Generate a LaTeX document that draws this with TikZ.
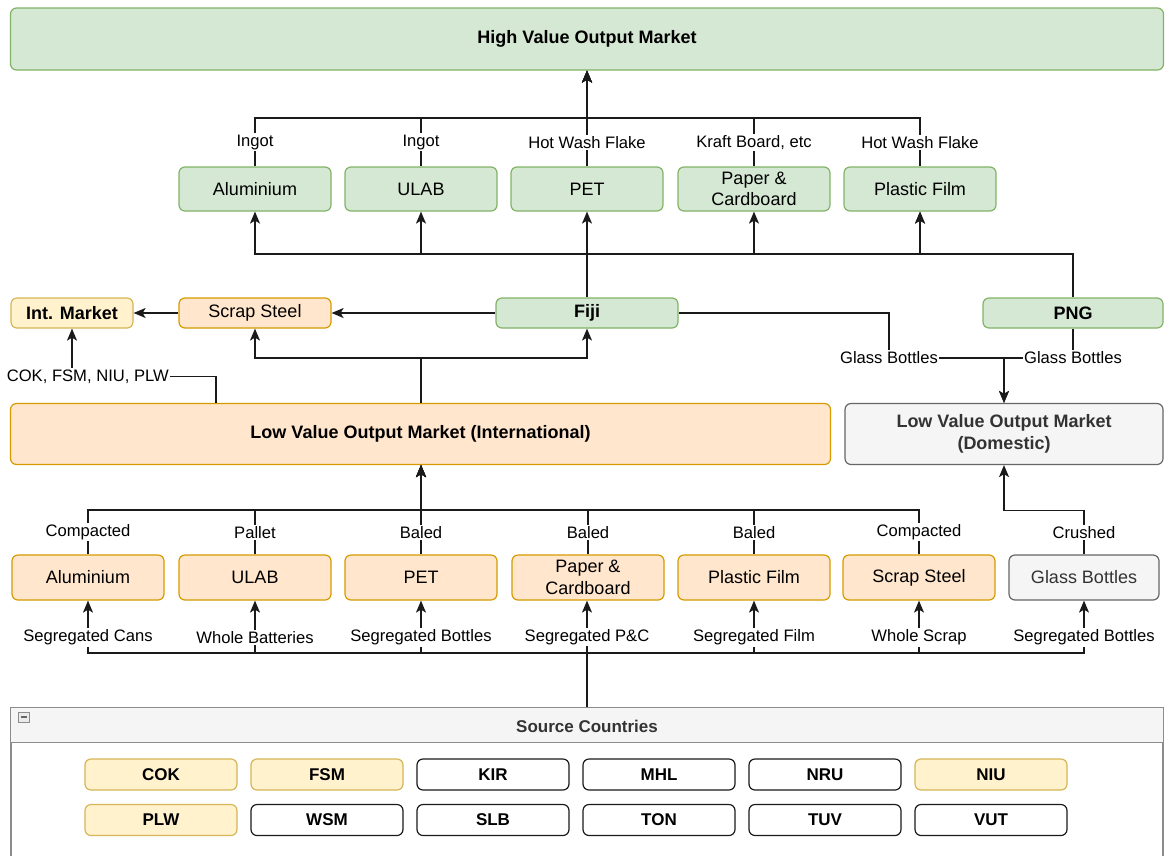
\documentclass[tikz,border=0pt]{standalone}
\usepackage{fontspec}
\setmainfont{Liberation Sans}
\usetikzlibrary{arrows.meta,calc}
\definecolor{gfill}{HTML}{D5E8D4}\definecolor{gline}{HTML}{82B366}
\definecolor{ofill}{HTML}{FFE6CC}\definecolor{oline}{HTML}{D79B00}
\definecolor{yfill}{HTML}{FFF2CC}\definecolor{yline}{HTML}{D6B656}
\definecolor{sfill}{HTML}{F5F5F5}\definecolor{sline}{HTML}{666666}
\definecolor{stext}{HTML}{333333}
\definecolor{cline}{HTML}{1A1A1A}
\tikzset{
  sz/.style n args={2}{minimum width=#1pt, minimum height=#2pt},
  box/.style={rounded corners=6pt, line width=1.2pt, inner sep=1pt, align=center,
              font=\fontsize{18}{21.5}\selectfont},
  gbox/.style={box, fill=gfill, draw=gline},
  obox/.style={box, fill=ofill, draw=oline},
  ybox/.style={box, fill=yfill, draw=yline},
  sbox/.style={box, fill=sfill, draw=sline, text=stext},
  wbox/.style={box, fill=white, draw=cline},
  conn/.style={line width=1.4pt, draw=cline},
  arr/.style={conn, -{Stealth[length=12pt,width=10pt,inset=3pt]}},
  lbl/.style={fill=white, inner sep=1.5pt, font=\fontsize{16.6}{18}\selectfont}
}
\begin{document}
\begin{tikzpicture}[x=1pt,y=-1pt]
\useasboundingbox[fill=white] (0,0) rectangle (1166,855);

% ---------- top
\node[gbox, sz={1153}{62}] (hv) at (587,39) {\bfseries High Value Output Market};
\node[gbox, sz={152}{44}] (talu) at (255,189) {Aluminium};
\node[gbox, sz={152}{44}] (tulab) at (421,189) {ULAB};
\node[gbox, sz={152}{44}] (tpet) at (587,189) {PET};
\node[gbox, sz={152}{44}] (tpap) at (754,189) {Paper \&\\Cardboard};
\node[gbox, sz={152}{44}] (tpf) at (920,189) {Plastic Film};
\coordinate (hb) at (587,118);

\draw[arr] (talu.north) |- node[lbl,pos=0.25]{Ingot} (hb) -- (hv.south);
\draw[arr] (tulab.north) |- node[lbl,pos=0.25]{Ingot} (hb) -- (hv.south);
\draw[arr] (tpet.north) -- node[lbl,pos=0.25]{Hot Wash Flake} (hv.south);
\draw[arr] (tpap.north) |- node[lbl,pos=0.25]{Kraft Board, etc} (hb) -- (hv.south);
\draw[arr] (tpf.north) |- node[lbl,pos=0.25]{Hot Wash Flake} (hb) -- (hv.south);

% ---------- middle row
\node[ybox, sz={122}{30}] (intm) at (72,313) {\bfseries Int. Market};
\node[obox, sz={152}{30}] (scrap) at (255,313) {Scrap Steel};
\node[gbox, sz={182}{30}] (fiji) at (587,313) {\bfseries Fiji};
\node[gbox, sz={180}{30}] (png) at (1073,313) {\bfseries PNG};
\coordinate (fb) at (587,254);

\draw[arr] (fiji.north) -- (tpet.south);
\draw[arr] (fb) -| (talu.south);
\draw[arr] (fb) -| (tulab.south);
\draw[arr] (fb) -| (tpap.south);
\draw[arr] (fb) -| (tpf.south);
\draw[arr] (png.north) |- (tpf.south |- fb) -- (tpf.south);

\draw[arr] (fiji.west) -- (scrap.east);
\draw[arr] (scrap.west) -- (intm.east);

% ---------- low value markets
\node[obox, sz={820}{61}] (lvi) at (420.5,434) {\bfseries Low Value Output Market (International)};
\node[sbox, sz={318}{61}] (lvd) at (1004,434) {\bfseries Low Value Output Market\\\bfseries (Domestic)};
\coordinate (mb) at (421,358);

\draw[conn] (lvi.north -| mb) -- (mb);
\draw[arr] (mb) -| (scrap.south);
\draw[arr] (mb) -| (fiji.south);

\draw[arr] ($(lvi.north west)+(206,0)$) |- node[lbl,pos=0.945]{COK, FSM, NIU, PLW} ($(intm.south)+(0,48)$) -- (intm.south);

\draw[arr] (fiji.east) -| node[lbl,pos=1]{Glass Bottles} ($(lvd.north)+(-115,-45)$) -- ($(lvd.north)+(0,-45)$) -- (lvd.north);
\draw[arr] (png.south) |- node[lbl,pos=0.5]{Glass Bottles} ($(lvd.north)+(0,-45)$) -- (lvd.north);

% ---------- bottom row
\node[obox, sz={152}{45}] (bal) at (88,577.5) {Aluminium};
\node[obox, sz={152}{45}] (bul) at (255,577.5) {ULAB};
\node[obox, sz={152}{45}] (bpet) at (421,577.5) {PET};
\node[obox, sz={152}{45}] (bpap) at (588,577.5) {Paper \&\\Cardboard};
\node[obox, sz={152}{45}] (bpf) at (754,577.5) {Plastic Film};
\node[obox, sz={152}{45}] (bss) at (919,577.5) {Scrap Steel};
\node[sbox, sz={150}{45}] (bgb) at (1084,577.5) {Glass Bottles};
\coordinate (lb) at (421,510);

\draw[arr] (bal.north) |- node[lbl,pos=0.25]{Compacted} (lb) -- (lvi.south -| lb);
\draw[arr] (bul.north) |- node[lbl,pos=0.25]{Pallet} (lb) -- (lvi.south -| lb);
\draw[arr] (bpet.north) -- node[lbl,pos=0.243]{Baled} (lvi.south -| lb);
\draw[arr] (bpap.north) |- node[lbl,pos=0.25]{Baled} (lb) -- (lvi.south -| lb);
\draw[arr] (bpf.north) |- node[lbl,pos=0.25]{Baled} (lb) -- (lvi.south -| lb);
\draw[arr] (bss.north) |- node[lbl,pos=0.25]{Compacted} (lb) -- (lvi.south -| lb);
\draw[arr] (bgb.north) |- node[lbl,pos=0.25]{Crushed} ($(lvd.south)+(0,45.5)$) -- (lvd.south);

% ---------- source countries
\node[draw=black!45, line width=1.2pt, fill=white, sz={1152}{162}, inner sep=0] (src) at (587,789) {};
\fill[sfill] ($(src.north west)+(0.6,0.6)$) rectangle ($(src.north east)+(-0.6,35)$);
\draw[black!45, line width=1.2pt] ($(src.north west)+(0,35)$) -- ($(src.north east)+(0,35)$);
\node[font=\fontsize{17}{19}\selectfont\bfseries, text=stext] (srct) at (587,726) {Source Countries};
\draw[black!45, fill=black!8, line width=0.8pt] (18,712) rectangle (29,722);
\draw[black!60, line width=1.2pt] (20.5,717) -- (26.5,717);

\foreach \n/\x/\y/\s in {COK/161/774.5/ybox, FSM/327/774.5/ybox, KIR/493/774.5/wbox,
  MHL/659/774.5/wbox, NRU/825/774.5/wbox, NIU/991/774.5/ybox,
  PLW/161/820/ybox, WSM/327/820/wbox, SLB/493/820/wbox, TON/659/820/wbox,
  TUV/825/820/wbox, VUT/991/820/wbox}
  \node[\s, sz={152}{31}, font=\fontsize{17}{19}\selectfont\bfseries] (c\n) at (\x,\y) {\n};

\coordinate (sb) at (587,653);
\draw[conn] (src.north -| sb) -- (sb);
\draw[arr] (sb) -| node[lbl,pos=0.65]{Segregated Cans} (bal.south);
\draw[arr] (sb) -| node[lbl,pos=0.65]{Whole Batteries} (bul.south);
\draw[arr] (sb) -| node[lbl,pos=0.65]{Segregated Bottles} (bpet.south);
\draw[arr] (src.north -| sb) -- node[lbl,pos=0.657]{Segregated P\&C} (bpap.south -| sb);
\draw[arr] (sb) -| node[lbl,pos=0.65]{Segregated Film} (bpf.south);
\draw[arr] (sb) -| node[lbl,pos=0.65]{Whole Scrap} (bss.south);
\draw[arr] (sb) -| node[lbl,pos=0.65]{Segregated Bottles} (bgb.south);
\end{tikzpicture}
\end{document}
